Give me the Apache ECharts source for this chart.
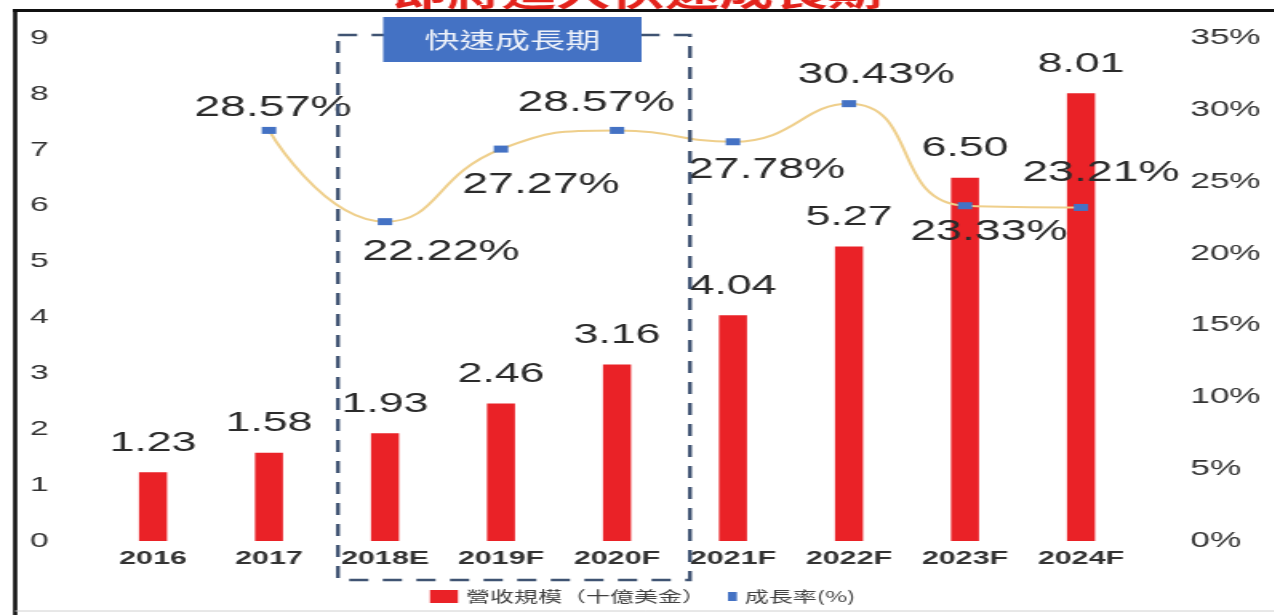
<!DOCTYPE html>
<html>
<head>
<meta charset="utf-8">
<script src="https://cdn.jsdelivr.net/npm/echarts@6/dist/echarts.min.js"></script>
<style>
  html, body { margin: 0; padding: 0; background: #fff; overflow: hidden; }
  /* chart is laid out narrow and widened horizontally, like the wide slide it comes from */
  #chart { width: 797px; height: 615px; transform: scaleX(1.6); transform-origin: 0 0; }
</style>
</head>
<body>
<div id="chart"></div>
<script>
// Revenue scale (billion USD) and year-on-year growth
const categories = ['2016', '2017', '2018E', '2019F', '2020F', '2021F', '2022F', '2023F', '2024F'];
const revenue = [1.23, 1.58, 1.93, 2.46, 3.16, 4.04, 5.27, 6.50, 8.01];
const growth = [null, 28.57, 22.22, 27.27, 28.57, 27.78, 30.43, 23.33, 23.21];

const titleText = '即將進入快速成長期';
const phaseText = '快速成長期';
const revenueName = '營收規模（十億美金）';
const growthName = '成長率(%)';

// where each growth label sits relative to its marker
const growthLabelOffsets = [[0, 0], [2.5, -22], [35, 30], [25, 36], [-13, -27], [21, 28], [17, -29], [15, 26], [12.5, -34]];

const numFont = 'Liberation Sans, Arial, sans-serif';
const cjkFont = '"Noto Sans CJK TC", "Noto Sans CJK SC", sans-serif';
const textColor = '#2b2b2b';

const chart = echarts.init(document.getElementById('chart'));

chart.setOption({
  animation: false,
  backgroundColor: '#ffffff',
  title: {
    text: titleText,
    left: 'center',
    top: -24,
    padding: 0,
    textStyle: { fontSize: 34, fontWeight: 'bold', color: '#e3231c', fontFamily: cjkFont }
  },
  grid: { left: 59.4, right: 85.1, top: 38, bottom: 74 },
  legend: [
    {
      data: [{ name: revenueName, icon: 'rect' }],
      left: 268.75, top: 589, padding: 0,
      itemWidth: 17.5, itemHeight: 13, selectedMode: false,
      textStyle: { fontSize: 15, color: '#404040', fontFamily: cjkFont }
    },
    {
      data: [{ name: growthName, icon: 'rect', itemStyle: { color: '#4472c4' } }],
      left: 455, top: 589, padding: 0,
      itemWidth: 5.6, itemHeight: 9, selectedMode: false,
      textStyle: { fontSize: 15, color: '#404040', fontFamily: cjkFont }
    }
  ],
  xAxis: {
    type: 'category',
    data: categories,
    axisLine: { show: false },
    axisTick: { show: false },
    axisLabel: { margin: 8, fontSize: 19, fontWeight: 'bold', color: '#333', fontFamily: numFont }
  },
  yAxis: [
    {
      type: 'value', min: 0, max: 9, interval: 1,
      splitLine: { show: false },
      axisLine: { show: false }, axisTick: { show: false },
      axisLabel: { margin: 29, fontSize: 21, color: '#333', fontFamily: numFont }
    },
    {
      type: 'value', min: 0, max: 35, interval: 5,
      splitLine: { show: false },
      axisLine: { show: false }, axisTick: { show: false },
      axisLabel: { margin: 32, fontSize: 22, color: '#333', fontFamily: numFont, formatter: '{value}%' }
    }
  ],
  series: [
    {
      name: revenueName,
      type: 'bar',
      data: revenue,
      barWidth: 17.5,
      itemStyle: { color: '#ea2227' },
      label: {
        show: true, position: 'top', distance: 15,
        fontSize: 28, color: textColor, fontFamily: numFont,
        formatter: p => p.value.toFixed(2)
      },
      z: 2
    },
    {
      name: growthName,
      type: 'line',
      yAxisIndex: 1,
      data: growth.map((v, i) => v == null ? '-' : { value: v, label: { offset: growthLabelOffsets[i] } }),
      smooth: 0.5,
      symbol: 'rect',
      symbolSize: [9, 7],
      itemStyle: { color: '#4472c4' },
      lineStyle: { color: '#efcf8b', width: 2 },
      label: {
        show: true, position: 'inside', align: 'center', verticalAlign: 'middle',
        fontSize: 29, color: textColor, fontFamily: numFont,
        formatter: p => Number(p.value).toFixed(2) + '%'
      },
      z: 3
    }
  ],
  graphic: [
    // page frame
    { type: 'line', shape: { x1: 8, y1: 10.5, x2: 797, y2: 10.5 }, style: { stroke: '#111', lineWidth: 3 }, z: 10 },
    { type: 'line', shape: { x1: 9.5, y1: 9, x2: 9.5, y2: 615 }, style: { stroke: '#111', lineWidth: 2.6 }, z: 10 },
    { type: 'line', shape: { x1: 9.5, y1: 611, x2: 797, y2: 611 }, style: { stroke: '#d0d0d0', lineWidth: 1 }, z: 10 },
    // dashed frame around the fast-growth years
    {
      type: 'rect',
      shape: { x: 211.25, y: 35, width: 220, height: 545 },
      style: { fill: 'none', stroke: '#3f5372', lineWidth: 2.4, lineDash: [12, 9] },
      z: 10
    },
    {
      type: 'rect',
      shape: { x: 239.5, y: 17, width: 161.5, height: 45 },
      style: { fill: '#4472c4' },
      z: 11
    },
    {
      type: 'text',
      x: 320.25, y: 40,
      style: {
        text: phaseText, fill: '#eef2fa', font: '22px ' + cjkFont,
        align: 'center', verticalAlign: 'middle', textAlign: 'center', textVerticalAlign: 'middle'
      },
      z: 12
    }
  ]
});
</script>
</body>
</html>
